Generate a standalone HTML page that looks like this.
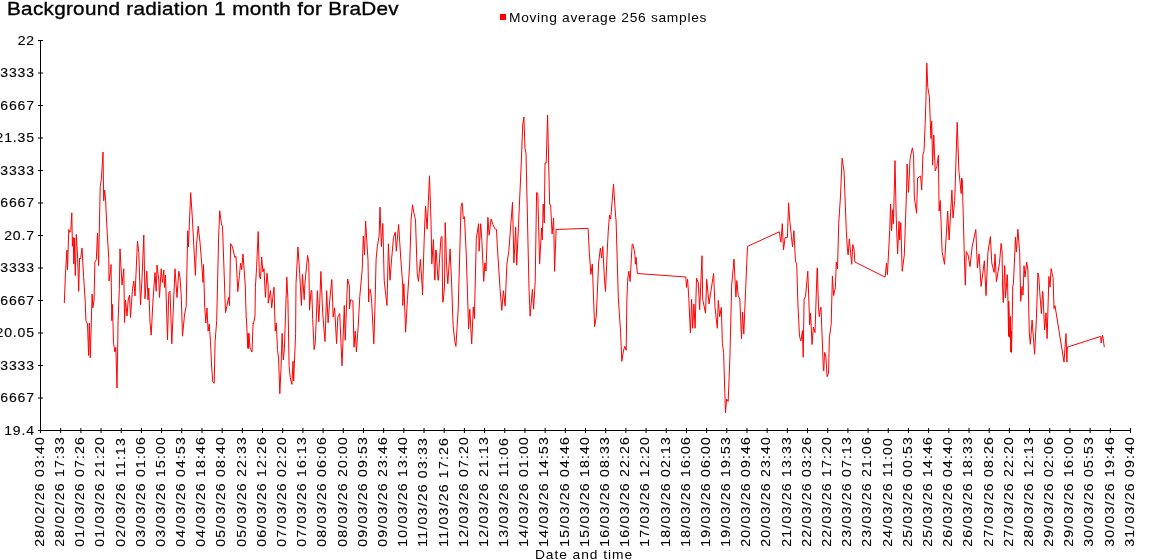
<!DOCTYPE html>
<html><head><meta charset="utf-8"><style>
html,body{margin:0;padding:0;background:#fff;overflow:hidden;width:1150px;height:560px}
svg{display:block;will-change:transform}
text{font-family:"Liberation Sans", sans-serif;fill:#000;stroke:#000}
</style></head><body>
<svg width="1150" height="560" viewBox="0 0 1150 560">
<path d="M40.5 40 V430.5 H1130.5" stroke="#000" stroke-width="1" fill="none"/>
<path d="M38 40.500 H43" stroke="#000" stroke-width="1"/>
<text transform="translate(35.0,44.5) scale(1.15,1)" text-anchor="end" stroke-width="0.12" font-size="12.2" letter-spacing="0.78">22</text>
<path d="M38 73.000 H43" stroke="#000" stroke-width="1"/>
<text transform="translate(35.0,77.0) scale(1.15,1)" text-anchor="end" stroke-width="0.12" font-size="12.2" letter-spacing="0.78">21.783333</text>
<path d="M38 105.500 H43" stroke="#000" stroke-width="1"/>
<text transform="translate(35.0,109.5) scale(1.15,1)" text-anchor="end" stroke-width="0.12" font-size="12.2" letter-spacing="0.78">21.566667</text>
<path d="M38 138.000 H43" stroke="#000" stroke-width="1"/>
<text transform="translate(35.0,142.0) scale(1.15,1)" text-anchor="end" stroke-width="0.12" font-size="12.2" letter-spacing="0.78">21.35</text>
<path d="M38 170.500 H43" stroke="#000" stroke-width="1"/>
<text transform="translate(35.0,174.5) scale(1.15,1)" text-anchor="end" stroke-width="0.12" font-size="12.2" letter-spacing="0.78">21.133333</text>
<path d="M38 203.000 H43" stroke="#000" stroke-width="1"/>
<text transform="translate(35.0,207.0) scale(1.15,1)" text-anchor="end" stroke-width="0.12" font-size="12.2" letter-spacing="0.78">20.916667</text>
<path d="M38 235.500 H43" stroke="#000" stroke-width="1"/>
<text transform="translate(35.0,239.5) scale(1.15,1)" text-anchor="end" stroke-width="0.12" font-size="12.2" letter-spacing="0.78">20.7</text>
<path d="M38 268.000 H43" stroke="#000" stroke-width="1"/>
<text transform="translate(35.0,272.0) scale(1.15,1)" text-anchor="end" stroke-width="0.12" font-size="12.2" letter-spacing="0.78">20.483333</text>
<path d="M38 300.500 H43" stroke="#000" stroke-width="1"/>
<text transform="translate(35.0,304.5) scale(1.15,1)" text-anchor="end" stroke-width="0.12" font-size="12.2" letter-spacing="0.78">20.266667</text>
<path d="M38 333.000 H43" stroke="#000" stroke-width="1"/>
<text transform="translate(35.0,337.0) scale(1.15,1)" text-anchor="end" stroke-width="0.12" font-size="12.2" letter-spacing="0.78">20.05</text>
<path d="M38 365.500 H43" stroke="#000" stroke-width="1"/>
<text transform="translate(35.0,369.5) scale(1.15,1)" text-anchor="end" stroke-width="0.12" font-size="12.2" letter-spacing="0.78">19.833333</text>
<path d="M38 398.000 H43" stroke="#000" stroke-width="1"/>
<text transform="translate(35.0,402.0) scale(1.15,1)" text-anchor="end" stroke-width="0.12" font-size="12.2" letter-spacing="0.78">19.616667</text>
<path d="M38 430.500 H43" stroke="#000" stroke-width="1"/>
<text transform="translate(35.0,434.5) scale(1.15,1)" text-anchor="end" stroke-width="0.12" font-size="12.2" letter-spacing="0.78">19.4</text>
<path d="M40.500 428 V433" stroke="#000" stroke-width="1"/>
<text transform="translate(43.8,546.7) rotate(-90) scale(1.15,1)" stroke-width="0.12" font-size="12.2" letter-spacing="1.08">28/02/26 03:40</text>
<path d="M60.685 428 V433" stroke="#000" stroke-width="1"/>
<text transform="translate(63.98518518518519,546.7) rotate(-90) scale(1.15,1)" stroke-width="0.12" font-size="12.2" letter-spacing="1.08">28/02/26 17:33</text>
<path d="M80.870 428 V433" stroke="#000" stroke-width="1"/>
<text transform="translate(84.17037037037038,546.7) rotate(-90) scale(1.15,1)" stroke-width="0.12" font-size="12.2" letter-spacing="1.08">01/03/26 07:26</text>
<path d="M101.056 428 V433" stroke="#000" stroke-width="1"/>
<text transform="translate(104.35555555555555,546.7) rotate(-90) scale(1.15,1)" stroke-width="0.12" font-size="12.2" letter-spacing="1.08">01/03/26 21:20</text>
<path d="M121.241 428 V433" stroke="#000" stroke-width="1"/>
<text transform="translate(124.54074074074074,546.7) rotate(-90) scale(1.15,1)" stroke-width="0.12" font-size="12.2" letter-spacing="1.08">02/03/26 11:13</text>
<path d="M141.426 428 V433" stroke="#000" stroke-width="1"/>
<text transform="translate(144.72592592592594,546.7) rotate(-90) scale(1.15,1)" stroke-width="0.12" font-size="12.2" letter-spacing="1.08">03/03/26 01:06</text>
<path d="M161.611 428 V433" stroke="#000" stroke-width="1"/>
<text transform="translate(164.91111111111113,546.7) rotate(-90) scale(1.15,1)" stroke-width="0.12" font-size="12.2" letter-spacing="1.08">03/03/26 15:00</text>
<path d="M181.796 428 V433" stroke="#000" stroke-width="1"/>
<text transform="translate(185.09629629629632,546.7) rotate(-90) scale(1.15,1)" stroke-width="0.12" font-size="12.2" letter-spacing="1.08">04/03/26 04:53</text>
<path d="M201.981 428 V433" stroke="#000" stroke-width="1"/>
<text transform="translate(205.2814814814815,546.7) rotate(-90) scale(1.15,1)" stroke-width="0.12" font-size="12.2" letter-spacing="1.08">04/03/26 18:46</text>
<path d="M222.167 428 V433" stroke="#000" stroke-width="1"/>
<text transform="translate(225.46666666666667,546.7) rotate(-90) scale(1.15,1)" stroke-width="0.12" font-size="12.2" letter-spacing="1.08">05/03/26 08:40</text>
<path d="M242.352 428 V433" stroke="#000" stroke-width="1"/>
<text transform="translate(245.65185185185186,546.7) rotate(-90) scale(1.15,1)" stroke-width="0.12" font-size="12.2" letter-spacing="1.08">05/03/26 22:33</text>
<path d="M262.537 428 V433" stroke="#000" stroke-width="1"/>
<text transform="translate(265.8370370370371,546.7) rotate(-90) scale(1.15,1)" stroke-width="0.12" font-size="12.2" letter-spacing="1.08">06/03/26 12:26</text>
<path d="M282.722 428 V433" stroke="#000" stroke-width="1"/>
<text transform="translate(286.02222222222224,546.7) rotate(-90) scale(1.15,1)" stroke-width="0.12" font-size="12.2" letter-spacing="1.08">07/03/26 02:20</text>
<path d="M302.907 428 V433" stroke="#000" stroke-width="1"/>
<text transform="translate(306.2074074074074,546.7) rotate(-90) scale(1.15,1)" stroke-width="0.12" font-size="12.2" letter-spacing="1.08">07/03/26 16:13</text>
<path d="M323.093 428 V433" stroke="#000" stroke-width="1"/>
<text transform="translate(326.3925925925926,546.7) rotate(-90) scale(1.15,1)" stroke-width="0.12" font-size="12.2" letter-spacing="1.08">08/03/26 06:06</text>
<path d="M343.278 428 V433" stroke="#000" stroke-width="1"/>
<text transform="translate(346.5777777777778,546.7) rotate(-90) scale(1.15,1)" stroke-width="0.12" font-size="12.2" letter-spacing="1.08">08/03/26 20:00</text>
<path d="M363.463 428 V433" stroke="#000" stroke-width="1"/>
<text transform="translate(366.762962962963,546.7) rotate(-90) scale(1.15,1)" stroke-width="0.12" font-size="12.2" letter-spacing="1.08">09/03/26 09:53</text>
<path d="M383.648 428 V433" stroke="#000" stroke-width="1"/>
<text transform="translate(386.94814814814816,546.7) rotate(-90) scale(1.15,1)" stroke-width="0.12" font-size="12.2" letter-spacing="1.08">09/03/26 23:46</text>
<path d="M403.833 428 V433" stroke="#000" stroke-width="1"/>
<text transform="translate(407.1333333333333,546.7) rotate(-90) scale(1.15,1)" stroke-width="0.12" font-size="12.2" letter-spacing="1.08">10/03/26 13:40</text>
<path d="M424.019 428 V433" stroke="#000" stroke-width="1"/>
<text transform="translate(427.31851851851854,546.7) rotate(-90) scale(1.15,1)" stroke-width="0.12" font-size="12.2" letter-spacing="1.08">11/03/26 03:33</text>
<path d="M444.204 428 V433" stroke="#000" stroke-width="1"/>
<text transform="translate(447.5037037037037,546.7) rotate(-90) scale(1.15,1)" stroke-width="0.12" font-size="12.2" letter-spacing="1.08">11/03/26 17:26</text>
<path d="M464.389 428 V433" stroke="#000" stroke-width="1"/>
<text transform="translate(467.6888888888889,546.7) rotate(-90) scale(1.15,1)" stroke-width="0.12" font-size="12.2" letter-spacing="1.08">12/03/26 07:20</text>
<path d="M484.574 428 V433" stroke="#000" stroke-width="1"/>
<text transform="translate(487.8740740740741,546.7) rotate(-90) scale(1.15,1)" stroke-width="0.12" font-size="12.2" letter-spacing="1.08">12/03/26 21:13</text>
<path d="M504.759 428 V433" stroke="#000" stroke-width="1"/>
<text transform="translate(508.05925925925925,546.7) rotate(-90) scale(1.15,1)" stroke-width="0.12" font-size="12.2" letter-spacing="1.08">13/03/26 11:06</text>
<path d="M524.944 428 V433" stroke="#000" stroke-width="1"/>
<text transform="translate(528.2444444444444,546.7) rotate(-90) scale(1.15,1)" stroke-width="0.12" font-size="12.2" letter-spacing="1.08">14/03/26 01:00</text>
<path d="M545.130 428 V433" stroke="#000" stroke-width="1"/>
<text transform="translate(548.4296296296295,546.7) rotate(-90) scale(1.15,1)" stroke-width="0.12" font-size="12.2" letter-spacing="1.08">14/03/26 14:53</text>
<path d="M565.315 428 V433" stroke="#000" stroke-width="1"/>
<text transform="translate(568.6148148148147,546.7) rotate(-90) scale(1.15,1)" stroke-width="0.12" font-size="12.2" letter-spacing="1.08">15/03/26 04:46</text>
<path d="M585.500 428 V433" stroke="#000" stroke-width="1"/>
<text transform="translate(588.8,546.7) rotate(-90) scale(1.15,1)" stroke-width="0.12" font-size="12.2" letter-spacing="1.08">15/03/26 18:40</text>
<path d="M605.685 428 V433" stroke="#000" stroke-width="1"/>
<text transform="translate(608.9851851851852,546.7) rotate(-90) scale(1.15,1)" stroke-width="0.12" font-size="12.2" letter-spacing="1.08">16/03/26 08:33</text>
<path d="M625.870 428 V433" stroke="#000" stroke-width="1"/>
<text transform="translate(629.1703703703703,546.7) rotate(-90) scale(1.15,1)" stroke-width="0.12" font-size="12.2" letter-spacing="1.08">16/03/26 22:26</text>
<path d="M646.056 428 V433" stroke="#000" stroke-width="1"/>
<text transform="translate(649.3555555555555,546.7) rotate(-90) scale(1.15,1)" stroke-width="0.12" font-size="12.2" letter-spacing="1.08">17/03/26 12:20</text>
<path d="M666.241 428 V433" stroke="#000" stroke-width="1"/>
<text transform="translate(669.5407407407407,546.7) rotate(-90) scale(1.15,1)" stroke-width="0.12" font-size="12.2" letter-spacing="1.08">18/03/26 02:13</text>
<path d="M686.426 428 V433" stroke="#000" stroke-width="1"/>
<text transform="translate(689.7259259259259,546.7) rotate(-90) scale(1.15,1)" stroke-width="0.12" font-size="12.2" letter-spacing="1.08">18/03/26 16:06</text>
<path d="M706.611 428 V433" stroke="#000" stroke-width="1"/>
<text transform="translate(709.911111111111,546.7) rotate(-90) scale(1.15,1)" stroke-width="0.12" font-size="12.2" letter-spacing="1.08">19/03/26 06:00</text>
<path d="M726.796 428 V433" stroke="#000" stroke-width="1"/>
<text transform="translate(730.0962962962963,546.7) rotate(-90) scale(1.15,1)" stroke-width="0.12" font-size="12.2" letter-spacing="1.08">19/03/26 19:53</text>
<path d="M746.981 428 V433" stroke="#000" stroke-width="1"/>
<text transform="translate(750.2814814814815,546.7) rotate(-90) scale(1.15,1)" stroke-width="0.12" font-size="12.2" letter-spacing="1.08">20/03/26 09:46</text>
<path d="M767.167 428 V433" stroke="#000" stroke-width="1"/>
<text transform="translate(770.4666666666666,546.7) rotate(-90) scale(1.15,1)" stroke-width="0.12" font-size="12.2" letter-spacing="1.08">20/03/26 23:40</text>
<path d="M787.352 428 V433" stroke="#000" stroke-width="1"/>
<text transform="translate(790.6518518518518,546.7) rotate(-90) scale(1.15,1)" stroke-width="0.12" font-size="12.2" letter-spacing="1.08">21/03/26 13:33</text>
<path d="M807.537 428 V433" stroke="#000" stroke-width="1"/>
<text transform="translate(810.837037037037,546.7) rotate(-90) scale(1.15,1)" stroke-width="0.12" font-size="12.2" letter-spacing="1.08">22/03/26 03:26</text>
<path d="M827.722 428 V433" stroke="#000" stroke-width="1"/>
<text transform="translate(831.0222222222221,546.7) rotate(-90) scale(1.15,1)" stroke-width="0.12" font-size="12.2" letter-spacing="1.08">22/03/26 17:20</text>
<path d="M847.907 428 V433" stroke="#000" stroke-width="1"/>
<text transform="translate(851.2074074074073,546.7) rotate(-90) scale(1.15,1)" stroke-width="0.12" font-size="12.2" letter-spacing="1.08">23/03/26 07:13</text>
<path d="M868.093 428 V433" stroke="#000" stroke-width="1"/>
<text transform="translate(871.3925925925926,546.7) rotate(-90) scale(1.15,1)" stroke-width="0.12" font-size="12.2" letter-spacing="1.08">23/03/26 21:06</text>
<path d="M888.278 428 V433" stroke="#000" stroke-width="1"/>
<text transform="translate(891.5777777777778,546.7) rotate(-90) scale(1.15,1)" stroke-width="0.12" font-size="12.2" letter-spacing="1.08">24/03/26 11:00</text>
<path d="M908.463 428 V433" stroke="#000" stroke-width="1"/>
<text transform="translate(911.7629629629629,546.7) rotate(-90) scale(1.15,1)" stroke-width="0.12" font-size="12.2" letter-spacing="1.08">25/03/26 00:53</text>
<path d="M928.648 428 V433" stroke="#000" stroke-width="1"/>
<text transform="translate(931.9481481481481,546.7) rotate(-90) scale(1.15,1)" stroke-width="0.12" font-size="12.2" letter-spacing="1.08">25/03/26 14:46</text>
<path d="M948.833 428 V433" stroke="#000" stroke-width="1"/>
<text transform="translate(952.1333333333333,546.7) rotate(-90) scale(1.15,1)" stroke-width="0.12" font-size="12.2" letter-spacing="1.08">26/03/26 04:40</text>
<path d="M969.019 428 V433" stroke="#000" stroke-width="1"/>
<text transform="translate(972.3185185185184,546.7) rotate(-90) scale(1.15,1)" stroke-width="0.12" font-size="12.2" letter-spacing="1.08">26/03/26 18:33</text>
<path d="M989.204 428 V433" stroke="#000" stroke-width="1"/>
<text transform="translate(992.5037037037036,546.7) rotate(-90) scale(1.15,1)" stroke-width="0.12" font-size="12.2" letter-spacing="1.08">27/03/26 08:26</text>
<path d="M1009.389 428 V433" stroke="#000" stroke-width="1"/>
<text transform="translate(1012.6888888888889,546.7) rotate(-90) scale(1.15,1)" stroke-width="0.12" font-size="12.2" letter-spacing="1.08">27/03/26 22:20</text>
<path d="M1029.574 428 V433" stroke="#000" stroke-width="1"/>
<text transform="translate(1032.8740740740739,546.7) rotate(-90) scale(1.15,1)" stroke-width="0.12" font-size="12.2" letter-spacing="1.08">28/03/26 12:13</text>
<path d="M1049.759 428 V433" stroke="#000" stroke-width="1"/>
<text transform="translate(1053.059259259259,546.7) rotate(-90) scale(1.15,1)" stroke-width="0.12" font-size="12.2" letter-spacing="1.08">29/03/26 02:06</text>
<path d="M1069.944 428 V433" stroke="#000" stroke-width="1"/>
<text transform="translate(1073.2444444444443,546.7) rotate(-90) scale(1.15,1)" stroke-width="0.12" font-size="12.2" letter-spacing="1.08">29/03/26 16:00</text>
<path d="M1090.130 428 V433" stroke="#000" stroke-width="1"/>
<text transform="translate(1093.4296296296295,546.7) rotate(-90) scale(1.15,1)" stroke-width="0.12" font-size="12.2" letter-spacing="1.08">30/03/26 05:53</text>
<path d="M1110.315 428 V433" stroke="#000" stroke-width="1"/>
<text transform="translate(1113.6148148148147,546.7) rotate(-90) scale(1.15,1)" stroke-width="0.12" font-size="12.2" letter-spacing="1.08">30/03/26 19:46</text>
<path d="M1130.500 428 V433" stroke="#000" stroke-width="1"/>
<text transform="translate(1133.8,546.7) rotate(-90) scale(1.15,1)" stroke-width="0.12" font-size="12.2" letter-spacing="1.08">31/03/26 09:40</text>
<text transform="translate(7.0,15.0) scale(1.15,1)" stroke-width="0.35" font-size="18" letter-spacing="0.256">Background radiation 1 month for BraDev</text>
<rect x="500" y="14" width="6" height="6" fill="#f00"/>
<text transform="translate(509,21.7) scale(1.15,1)" stroke-width="0" font-size="12" letter-spacing="0.6">Moving average 256 samples</text>
<text transform="translate(584,558.6) scale(1.15,1)" text-anchor="middle" stroke-width="0" font-size="12" letter-spacing="0.82">Date and time</text>
<path d="M64.3 303.1 L65.5 272.7 L66.9 250.1 L67.5 269.7 L68.8 229.5 L69.8 232.4 L70.8 230.5 L71.8 212.8 L72.4 246.2 L73.2 237.3 L73.8 263.9 L74.3 238.0 L75.3 275.6 L76.3 234.4 L77.7 258.9 L78.7 291.4 L79.6 258.0 L80.6 259.0 L82.0 248.1 L83.6 276.6 L85.2 301.0 L85.9 320.7 L87.5 324.0 L88.6 355.5 L89.3 323.0 L90.3 357.8 L92.1 294.0 L92.8 307.9 L94.0 301.0 L94.9 262.0 L96.3 259.8 L97.5 233.0 L98.6 265.6 L100.2 186.8 L101.4 178.6 L103.0 152.0 L103.7 200.7 L104.7 190.0 L105.6 200.7 L107.2 233.0 L108.8 258.7 L109.0 281.0 L110.7 269.6 L111.0 264.5 L111.8 320.7 L112.5 304.4 L113.5 342.7 L114.9 352.0 L115.8 347.4 L117.0 388.0 L118.1 320.7 L119.3 289.4 L120.0 248.8 L122.0 285.0 L123.8 268.8 L124.5 322.5 L125.5 300.0 L127.0 316.0 L128.2 300.0 L129.5 295.0 L130.5 317.5 L132.5 288.8 L133.8 281.2 L135.0 296.0 L137.5 241.2 L138.8 252.5 L140.5 305.0 L142.0 278.8 L143.8 235.0 L145.0 298.8 L146.8 271.2 L148.0 300.0 L148.8 288.0 L150.0 322.5 L151.2 335.0 L153.0 300.0 L155.0 272.5 L156.2 291.2 L157.0 265.0 L158.8 280.0 L159.5 297.5 L161.2 268.8 L162.5 282.5 L163.8 270.0 L164.5 287.5 L165.5 275.0 L167.5 340.0 L168.8 292.5 L170.0 291.2 L171.8 343.8 L175.0 268.8 L177.0 297.5 L178.8 271.2 L180.0 277.0 L181.2 295.0 L182.5 336.2 L184.5 315.0 L186.2 306.2 L187.7 230.8 L188.4 247.0 L190.7 192.6 L192.4 219.0 L195.4 275.4 L196.5 244.8 L198.2 226.2 L200.0 242.4 L201.6 262.0 L203.0 282.4 L203.5 264.5 L204.7 306.8 L205.8 323.0 L207.0 308.0 L208.1 331.0 L209.2 324.0 L210.5 341.6 L211.6 366.0 L212.8 382.0 L214.2 383.3 L215.1 341.6 L216.7 320.7 L218.6 237.8 L219.7 210.7 L221.6 225.0 L222.5 226.2 L225.5 312.6 L226.7 306.8 L228.5 297.5 L229.5 305.6 L230.6 243.6 L232.5 247.0 L234.8 257.5 L236.0 256.4 L237.8 291.7 L239.4 275.4 L240.6 263.3 L241.7 269.6 L243.0 254.0 L245.3 285.9 L246.2 318.3 L246.4 318.4 L247.8 348.4 L248.0 333.4 L248.7 348.5 L248.9 333.4 L250.0 347.4 L250.8 349.6 L251.8 352.0 L252.0 352.0 L253.1 323.0 L253.4 324.0 L255.0 316.0 L255.4 287.2 L256.6 267.4 L258.2 231.5 L259.4 276.7 L260.5 279.0 L261.7 257.0 L262.9 272.0 L264.0 268.6 L265.4 297.4 L267.0 273.2 L268.2 286.0 L268.2 303.2 L270.5 290.6 L271.7 307.8 L274.0 287.2 L275.2 331.0 L276.3 322.9 L277.5 349.6 L278.6 358.9 L279.8 393.7 L281.0 368.2 L282.1 333.4 L283.3 360.0 L284.4 348.4 L286.8 277.2 L287.9 298.6 L289.1 365.8 L290.2 377.4 L291.9 384.4 L293.0 361.2 L293.7 381.0 L295.6 333.4 L296.0 283.7 L297.9 247.0 L299.5 269.8 L301.4 305.5 L302.5 274.4 L304.2 299.7 L304.9 283.7 L307.6 255.4 L308.8 262.8 L309.5 310.2 L311.1 290.4 L311.8 290.6 L312.7 319.4 L314.1 349.6 L315.3 342.6 L317.4 290.6 L317.4 291.6 L318.8 321.8 L319.7 303.2 L320.9 271.4 L322.7 313.6 L325.0 341.5 L326.7 290.6 L326.7 291.6 L328.1 322.9 L329.7 300.9 L331.8 279.5 L333.2 317.1 L334.6 307.8 L336.6 343.8 L337.8 317.1 L339.7 313.6 L342.0 365.8 L344.3 305.5 L345.2 340.3 L347.6 279.0 L349.4 286.0 L349.4 309.0 L350.6 299.7 L352.9 300.9 L354.0 347.3 L355.2 331.0 L356.4 351.9 L358.2 326.4 L359.8 296.2 L362.2 269.8 L363.3 236.1 L364.5 254.7 L365.6 221.0 L368.0 260.5 L368.7 302.0 L369.1 290.6 L369.8 289.3 L370.3 289.5 L371.5 298.6 L373.8 343.8 L374.9 310.2 L376.1 259.3 L377.3 246.6 L379.1 236.1 L380.0 207.1 L381.4 246.6 L382.8 223.4 L384.2 280.2 L385.4 291.8 L387.0 305.5 L388.4 243.8 L390.0 280.2 L391.6 259.3 L393.5 237.3 L395.3 232.2 L396.3 251.2 L398.6 224.5 L400.9 260.5 L402.8 286.0 L402.8 305.5 L403.9 283.7 L403.9 284.6 L405.6 332.2 L407.4 299.7 L409.7 264.0 L411.1 219.9 L412.5 204.8 L413.9 212.9 L415.5 219.9 L417.2 273.2 L418.5 281.4 L420.4 259.3 L422.5 291.8 L422.5 295.0 L424.1 241.9 L425.5 206.0 L427.1 229.2 L429.5 175.8 L431.1 224.5 L431.8 264.0 L433.4 239.6 L434.6 279.0 L435.0 280.2 L435.7 250.0 L436.2 250.1 L438.0 280.2 L438.5 280.2 L439.6 258.2 L441.0 237.3 L442.0 236.5 L442.2 257.0 L442.7 302.0 L443.1 302.3 L444.5 287.0 L445.2 222.5 L446.6 265.2 L447.8 283.7 L450.1 248.9 L451.7 286.0 L453.1 325.5 L454.7 340.6 L455.9 346.4 L458.2 309.2 L461.0 207.4 L462.1 202.8 L463.3 219.0 L464.5 216.7 L466.3 255.9 L468.6 329.0 L469.8 309.2 L471.7 344.0 L473.3 306.9 L474.4 318.5 L476.3 238.5 L478.6 223.7 L479.1 251.2 L480.7 223.7 L481.9 240.8 L483.7 281.4 L484.9 262.8 L486.0 271.0 L487.9 217.2 L489.1 235.3 L491.1 219.0 L493.0 224.8 L494.9 228.8 L496.5 229.5 L497.2 244.3 L500.0 288.4 L501.8 310.4 L503.4 290.7 L505.1 305.8 L506.9 264.0 L508.8 251.2 L512.5 202.3 L513.9 262.8 L515.7 227.2 L516.7 265.2 L521.3 162.2 L522.7 125.1 L523.9 117.0 L525.0 148.3 L526.0 153.0 L529.0 288.4 L530.1 316.2 L532.4 289.5 L533.6 309.2 L535.2 281.4 L536.6 192.4 L537.8 193.5 L539.6 264.0 L541.5 228.0 L542.3 240.0 L543.2 204.0 L544.3 223.0 L545.0 163.0 L546.2 163.0 L547.6 115.0 L549.6 204.0 L550.6 205.0 L552.1 234.0 L553.6 218.0 L554.6 271.4 L556.1 229.5 L588.1 228.3 L589.3 252.4 L590.9 274.4 L592.3 264.0 L594.6 326.6 L596.3 316.2 L598.6 262.8 L600.4 248.0 L601.6 258.0 L602.8 246.4 L604.4 278.0 L605.5 291.6 L607.3 250.0 L608.2 232.0 L609.5 215.0 L610.7 219.0 L613.5 184.0 L615.5 215.0 L616.1 221.0 L618.3 297.6 L620.6 332.4 L621.8 361.4 L623.4 351.0 L624.8 346.4 L625.0 346.8 L626.2 350.3 L626.9 299.0 L627.6 281.4 L627.8 278.2 L628.7 272.1 L628.9 271.2 L630.1 281.6 L631.3 259.6 L632.2 244.3 L632.7 243.8 L634.3 250.3 L635.0 255.9 L635.4 264.2 L636.1 257.3 L637.3 273.5 L685.8 277.0 L686.5 287.4 L687.6 279.3 L688.8 298.1 L690.4 332.9 L691.6 299.3 L692.7 328.3 L693.9 303.9 L695.1 328.3 L696.5 278.2 L698.3 282.8 L699.7 309.7 L702.0 255.7 L702.7 299.3 L705.5 313.2 L706.7 279.3 L709.0 303.9 L713.6 273.5 L715.0 307.4 L717.3 328.3 L718.3 300.4 L719.7 316.7 L721.3 307.4 L722.4 343.4 L723.6 352.6 L724.8 392.1 L725.5 413.0 L726.6 399.0 L728.2 401.4 L729.9 357.3 L731.7 285.1 L734.0 259.1 L735.9 297.0 L736.8 280.5 L738.2 295.6 L739.8 299.3 L741.5 338.7 L742.6 312.0 L743.8 334.1 L745.6 289.8 L747.5 246.4 L779.3 231.8 L780.9 242.2 L782.3 223.6 L783.5 249.9 L785.1 237.6 L787.4 237.6 L788.6 202.8 L789.7 220.2 L791.4 236.4 L792.5 246.8 L793.9 230.6 L795.5 261.9 L796.7 263.1 L797.9 303.9 L799.5 336.4 L800.9 341.0 L802.5 330.6 L803.2 357.3 L804.1 299.3 L805.5 296.7 L807.8 271.2 L809.7 324.8 L810.6 313.2 L812.0 344.5 L813.4 327.1 L814.8 331.8 L815.0 332.6 L817.1 268.9 L817.3 267.8 L818.5 307.1 L819.2 316.4 L819.4 316.7 L820.6 307.2 L820.8 307.1 L821.0 307.4 L823.4 370.0 L823.8 370.9 L824.5 352.6 L824.7 352.4 L825.9 357.0 L827.1 376.7 L828.5 373.2 L829.4 337.3 L831.2 324.5 L832.4 275.9 L833.6 295.6 L835.4 287.5 L836.3 262.0 L837.5 269.0 L838.7 223.7 L840.5 195.9 L842.1 158.2 L843.3 166.4 L844.0 171.0 L846.3 230.7 L847.5 251.6 L848.2 255.0 L849.3 238.8 L851.7 264.3 L852.8 244.6 L854.0 249.2 L854.9 262.0 L885.1 277.1 L886.5 263.2 L887.4 274.8 L889.7 230.7 L890.6 204.0 L891.6 230.7 L892.7 209.8 L893.4 223.7 L895.0 160.6 L896.2 216.8 L897.6 253.9 L899.0 221.4 L899.7 240.0 L900.8 222.6 L902.2 271.3 L904.3 255.0 L906.6 188.9 L907.1 164.0 L908.5 192.4 L910.1 158.2 L912.4 147.8 L913.6 154.8 L914.3 197.0 L916.6 213.3 L917.6 178.0 L920.6 176.1 L921.7 190.1 L922.9 154.8 L924.0 151.3 L925.2 123.4 L925.9 101.4 L926.8 63.1 L927.8 87.5 L929.4 96.8 L930.3 122.3 L931.0 138.5 L931.7 121.1 L932.6 165.2 L933.8 135.0 L935.2 171.0 L936.8 166.4 L938.4 155.2 L939.1 211.0 L940.3 200.5 L942.1 251.6 L944.5 264.3 L947.7 211.0 L949.1 240.0 L951.9 190.1 L953.0 217.9 L954.7 200.5 L957.2 122.3 L958.9 171.0 L961.2 193.6 L961.6 178.0 L962.3 179.6 L964.0 244.6 L965.3 285.2 L966.3 251.6 L968.1 255.0 L970.0 266.6 L972.1 246.9 L975.8 229.5 L977.4 267.8 L979.0 253.9 L981.1 286.4 L984.4 260.8 L986.0 295.6 L987.9 252.7 L990.4 236.5 L991.8 263.2 L994.1 272.4 L995.0 253.9 L996.4 281.7 L999.5 263.2 L1001.1 243.4 L1001.1 243.6 L1002.1 251.4 L1002.5 283.9 L1003.1 302.1 L1003.4 302.5 L1003.6 297.0 L1004.6 265.7 L1004.8 265.5 L1005.4 297.9 L1006.4 287.0 L1007.1 274.6 L1007.4 275.0 L1007.6 281.7 L1008.6 336.4 L1008.7 301.3 L1009.3 316.4 L1009.4 337.3 L1010.4 316.4 L1010.7 352.1 L1011.4 331.4 L1011.5 352.4 L1012.6 300.0 L1012.7 286.4 L1013.1 285.0 L1013.4 283.9 L1015.0 249.2 L1015.4 237.1 L1016.4 252.1 L1017.9 229.3 L1019.7 252.9 L1020.7 301.4 L1021.4 294.3 L1022.1 286.4 L1022.1 294.3 L1023.1 295.0 L1024.0 265.7 L1025.0 277.1 L1026.7 262.1 L1027.9 270.0 L1029.3 332.9 L1030.3 344.3 L1032.1 320.0 L1034.6 354.3 L1036.4 318.6 L1037.9 272.9 L1038.9 277.9 L1039.7 291.4 L1041.4 313.6 L1042.6 291.4 L1042.9 292.1 L1044.6 330.0 L1046.0 312.9 L1047.1 338.6 L1048.3 297.1 L1048.9 276.4 L1050.0 287.1 L1051.1 268.6 L1053.1 277.9 L1054.0 308.6 L1055.0 305.7 L1064.0 362.1 L1066.0 333.6 L1066.9 362.1 L1067.4 347.1 L1100.7 336.4 L1101.1 342.9 L1102.6 335.0 L1104.3 347.1" stroke="#f00" stroke-width="1" fill="none" stroke-linejoin="miter"/>
</svg>
</body></html>
